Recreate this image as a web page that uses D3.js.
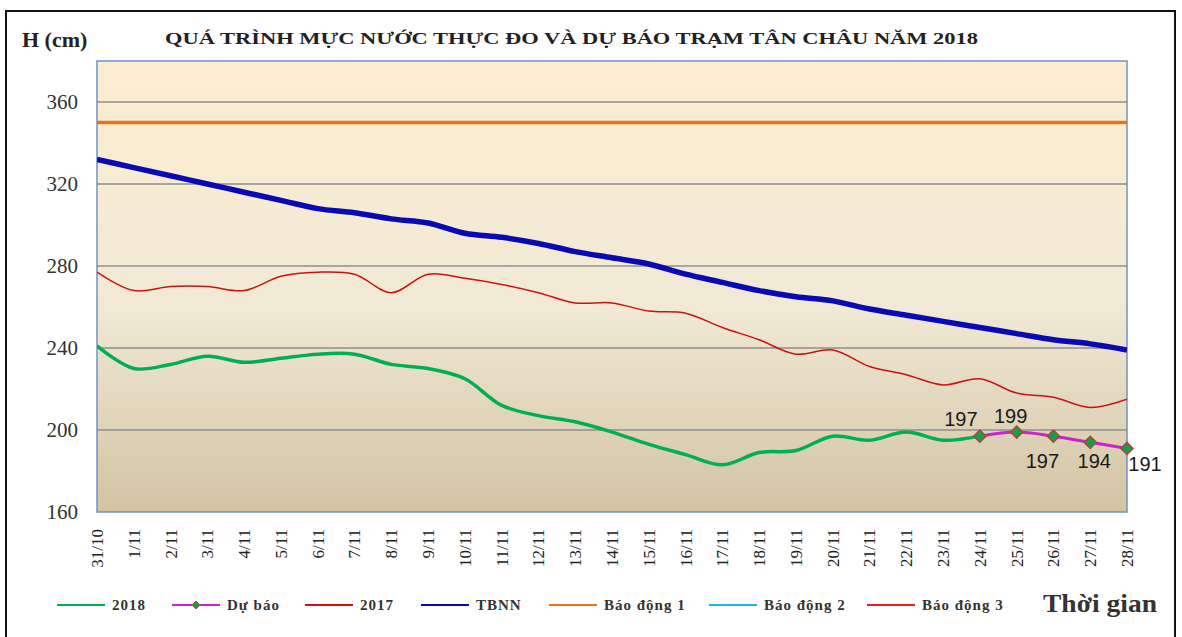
<!DOCTYPE html>
<html>
<head>
<meta charset="utf-8">
<script src="https://cdn.jsdelivr.net/npm/d3@7"></script>
<style>
  body { margin: 0; background: #fff; }
  svg { display: block; }
</style>
</head>
<body>
<svg width="1182" height="637"></svg>
<script>
// data
var dates = ["31/10", "1/11", "2/11", "3/11", "4/11", "5/11", "6/11", "7/11", "8/11", "9/11",
  "10/11", "11/11", "12/11", "13/11", "14/11", "15/11", "16/11", "17/11", "18/11", "19/11",
  "20/11", "21/11", "22/11", "23/11", "24/11", "25/11", "26/11", "27/11", "28/11"];

var v2018 = [241, 230, 232, 236, 233, 235, 237, 237, 232, 230, 225, 212, 207, 204, 199, 193,
  188, 183, 189, 190, 197, 195, 199, 195, 197];

var duBao = [null, null, null, null, null, null, null, null, null, null, null, null, null, null,
  null, null, null, null, null, null, null, null, null, null, 197, 199, 197, 194, 191];

var v2017 = [277, 268, 270, 270, 268, 275, 277, 276, 267, 276, 274, 271, 267, 262, 262, 258,
  257, 250, 244, 237, 239, 231, 227, 222, 225, 218, 216, 211, 215];

var tbnn = [332, 328, 324, 320, 316, 312, 308, 306, 303, 301, 296, 294, 291, 287, 284, 281,
  276, 272, 268, 265, 263, 259, 256, 253, 250, 247, 244, 242, 239];

var baoDong = [350, 400, 450]; // báo động 1, 2, 3
var yTicks = [160, 200, 240, 280, 320, 360];

var svg = d3.select("svg"),
  margin = { top: 61, right: 55, bottom: 125, left: 97 },
  width = +svg.attr("width") - margin.left - margin.right,
  height = +svg.attr("height") - margin.top - margin.bottom;

var x = d3.scalePoint().domain(dates).range([0, width]);
var y = d3.scaleLinear().domain([160, 380]).range([height, 0]);

// outer frame
svg.append("rect")
  .attr("x", 6).attr("y", 11).attr("width", 1169).attr("height", 650)
  .attr("fill", "none").attr("stroke", "#111").attr("stroke-width", 2);

var defs = svg.append("defs");
var grad = defs.append("linearGradient").attr("id", "bg")
  .attr("x1", 0).attr("y1", 0).attr("x2", 0).attr("y2", 1);
grad.append("stop").attr("offset", "0%").attr("stop-color", "#fdedd1");
grad.append("stop").attr("offset", "55%").attr("stop-color", "#f1e9d5");
grad.append("stop").attr("offset", "100%").attr("stop-color", "#d2c3a2");

defs.append("clipPath").attr("id", "clip")
  .append("rect").attr("width", width).attr("height", height);

var g = svg.append("g").attr("transform", "translate(" + margin.left + "," + margin.top + ")");

g.append("rect").attr("width", width).attr("height", height).attr("fill", "url(#bg)");

// gridlines
g.selectAll(".grid")
  .data(yTicks.filter(function(d) { return d > 160; }))
  .enter().append("line")
  .attr("x1", 0).attr("x2", width)
  .attr("y1", function(d) { return y(d); })
  .attr("y2", function(d) { return y(d); })
  .attr("stroke", "#8e8e8e").attr("stroke-width", 1.5);

g.append("rect").attr("width", width).attr("height", height)
  .attr("fill", "none").attr("stroke", "#6f93c6").attr("stroke-width", 1.5);

// y labels
g.selectAll(".ylab")
  .data(yTicks)
  .enter().append("text")
  .attr("x", -19)
  .attr("y", function(d) { return y(d); })
  .attr("dy", "0.35em")
  .attr("text-anchor", "end")
  .attr("font-family", "Liberation Serif, serif")
  .attr("font-size", 21)
  .attr("fill", "#333")
  .text(function(d) { return d; });

// x labels (rotated)
g.selectAll(".xlab")
  .data(dates)
  .enter().append("text")
  .attr("transform", function(d) { return "translate(" + x(d) + "," + (height + 17) + ") rotate(-90)"; })
  .attr("dy", "0.35em")
  .attr("text-anchor", "end")
  .attr("font-family", "Liberation Serif, serif")
  .attr("font-size", 17)
  .attr("fill", "#222")
  .text(function(d) { return d; });

var plot = g.append("g").attr("clip-path", "url(#clip)");

// alarm levels
var alarmColors = ["#e8731c", "#1fb4e6", "#ee1c1c"];
plot.selectAll(".alarm")
  .data(baoDong)
  .enter().append("line")
  .attr("x1", 0).attr("x2", width)
  .attr("y1", function(d) { return y(d); })
  .attr("y2", function(d) { return y(d); })
  .attr("stroke", function(d, i) { return alarmColors[i]; })
  .attr("stroke-width", 3.5);

function seriesLine(vals, color, w) {
  var line = d3.line()
    .defined(function(d) { return d != null; })
    .x(function(d, i) { return x(dates[i]); })
    .y(function(d) { return y(d); })
    .curve(d3.curveCatmullRom.alpha(0.5));
  plot.append("path")
    .datum(vals)
    .attr("d", line)
    .attr("fill", "none")
    .attr("stroke", color)
    .attr("stroke-width", w)
    .attr("stroke-linejoin", "round");
}

seriesLine(tbnn, "#0a0ab4", 5.5);
seriesLine(v2017, "#cc1111", 1.5);
seriesLine(v2018, "#00b050", 3.5);
seriesLine(duBao, "#cc22cc", 3);

// forecast markers
var fc = duBao.map(function(d, i) { return { v: d, i: i }; }).filter(function(d) { return d.v != null; });
var diamond = d3.symbol().type(d3.symbolDiamond2).size(95);
g.selectAll(".mk")
  .data(fc)
  .enter().append("path")
  .attr("d", diamond)
  .attr("transform", function(d) { return "translate(" + x(dates[d.i]) + "," + y(d.v) + ")"; })
  .attr("fill", "#12a04a")
  .attr("stroke", "#b0453a")
  .attr("stroke-width", 1.5);

// data labels
var labelOffset = [[-19, -10], [-6, -9], [-11, 32], [4, 26], [18, 23]];
g.selectAll(".dl")
  .data(fc)
  .enter().append("text")
  .attr("x", function(d, k) { return x(dates[d.i]) + labelOffset[k][0]; })
  .attr("y", function(d, k) { return y(d.v) + labelOffset[k][1]; })
  .attr("text-anchor", "middle")
  .attr("font-family", "Liberation Sans, Arial, sans-serif")
  .attr("font-size", 20)
  .attr("fill", "#1a1a1a")
  .text(function(d) { return d.v; });

// titles
svg.append("text")
  .attr("x", 22).attr("y", 47)
  .attr("font-family", "Liberation Serif, serif")
  .attr("font-weight", "bold")
  .attr("font-size", 22)
  .attr("fill", "#222")
  .text("H (cm)");

svg.append("text")
  .attr("x", 165).attr("y", 44)
  .attr("textLength", 813)
  .attr("lengthAdjust", "spacingAndGlyphs")
  .attr("font-family", "Liberation Serif, serif")
  .attr("font-weight", "bold")
  .attr("font-size", 17)
  .attr("fill", "#222")
  .text("QUÁ TRÌNH MỰC NƯỚC THỰC ĐO VÀ DỰ BÁO TRẠM TÂN CHÂU NĂM 2018");

// legend
var legendNames = ["2018", "Dự báo", "2017", "TBNN", "Báo động 1", "Báo động 2", "Báo động 3"];
var legendColors = ["#00b050", "#cc22cc", "#cc1111", "#0a0ab4", "#e8731c", "#1fb4e6", "#ee1c1c"];
var legendX = [57, 172, 305, 421, 549, 709, 867];

var legend = svg.append("g")
  .selectAll("g")
  .data(legendNames)
  .enter().append("g")
  .attr("transform", function(d, i) { return "translate(" + legendX[i] + ",605)"; });

legend.append("line")
  .attr("x1", 0).attr("x2", 48)
  .attr("stroke", function(d, i) { return legendColors[i]; })
  .attr("stroke-width", 2);

legend.filter(function(d) { return d === "Dự báo"; })
  .append("path")
  .attr("d", d3.symbol().type(d3.symbolDiamond2).size(40))
  .attr("transform", "translate(24,0)")
  .attr("fill", "#12a04a")
  .attr("stroke", "#b0453a")
  .attr("stroke-width", 1);

legend.append("text")
  .attr("x", 55)
  .attr("dy", "0.35em")
  .attr("font-family", "Liberation Serif, serif")
  .attr("font-weight", "bold")
  .attr("font-size", 15)
  .attr("letter-spacing", 1)
  .attr("fill", "#333")
  .text(function(d) { return d; });

svg.append("text")
  .attr("x", 1043).attr("y", 612)
  .attr("textLength", 114)
  .attr("lengthAdjust", "spacingAndGlyphs")
  .attr("font-family", "Liberation Serif, serif")
  .attr("font-weight", "bold")
  .attr("font-size", 25)
  .attr("fill", "#333")
  .text("Thời gian");
</script>
</body>
</html>
